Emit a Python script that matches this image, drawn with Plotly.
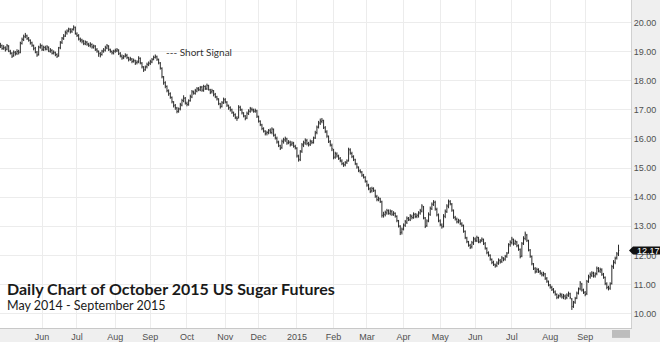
import pandas as pd
import plotly.graph_objects as go

# ---- data, one value per trading day from 2014-04-28 ----
start_date = "2014-04-28"

closes = [
    19.22, 19.10, 19.14, 19.05, 19.20, 19.02, 18.95, 18.84, 18.98, 18.92,
    19.00, 18.96, 19.30, 19.42, 19.50, 19.56, 19.44, 19.40, 19.30, 19.22,
    19.10, 18.98, 18.88, 19.16, 19.20, 19.08, 19.14, 19.10, 19.16, 19.02,
    19.06, 18.94, 18.98, 18.88, 18.84, 19.12, 19.30, 19.46, 19.52, 19.66,
    19.70, 19.78, 19.68, 19.76, 19.84, 19.62, 19.55, 19.44, 19.38, 19.36,
    19.28, 19.34, 19.26, 19.22, 19.26, 19.16, 19.20, 19.08, 19.02, 18.92,
    18.88, 19.02, 19.06, 19.14, 19.20, 19.08, 19.02, 18.96, 19.00, 19.04,
    19.06, 18.92, 18.86, 18.78, 18.82, 18.88, 18.80, 18.72, 18.76, 18.66,
    18.70, 18.60, 18.64, 18.78, 18.62, 18.48, 18.36, 18.46, 18.56, 18.60,
    18.66, 18.72, 18.80, 18.84, 18.74, 18.62, 18.44, 18.14, 17.92, 17.82,
    17.66, 17.54, 17.44, 17.28, 17.14, 17.08, 16.94, 17.02, 17.18, 17.32,
    17.40, 17.24, 17.18, 17.30, 17.46, 17.62, 17.58, 17.66, 17.72, 17.70,
    17.76, 17.68, 17.80, 17.74, 17.84, 17.70, 17.60, 17.66, 17.52, 17.46,
    17.38, 17.22, 17.10, 17.24, 17.36, 17.28, 17.16, 17.06, 17.00, 16.92,
    16.82, 16.74, 16.70, 17.10, 17.02, 16.90, 16.80, 16.70, 16.88, 16.96,
    17.04, 17.00, 16.96, 16.98, 16.78, 16.62, 16.50, 16.36, 16.28, 16.18,
    16.22, 16.28, 16.24, 16.34, 16.14, 16.04, 15.90, 15.78, 15.68, 15.92,
    15.98, 16.02, 15.86, 15.90, 15.80, 15.86, 15.76, 15.70, 15.42, 15.28,
    15.56, 15.80, 15.88, 15.96, 15.84, 15.80, 15.92, 15.88, 16.02, 16.20,
    16.40, 16.56, 16.62, 16.64, 16.40, 16.26, 16.10, 15.92, 15.80, 15.66,
    15.36, 15.50, 15.42, 15.34, 15.26, 15.16, 15.10, 15.18, 15.24, 15.64,
    15.52, 15.40, 15.30, 15.16, 15.04, 14.92, 14.88, 14.76, 14.70, 14.56,
    14.42, 14.30, 14.20, 14.30, 14.24, 14.04, 13.92, 13.96, 13.86, 13.38,
    13.42, 13.48, 13.54, 13.46, 13.52, 13.42, 13.46, 13.36, 13.20, 13.02,
    12.78, 12.90, 13.04, 13.16, 13.28, 13.24, 13.36, 13.30, 13.42, 13.34,
    13.38, 13.46, 13.54, 13.70, 13.30, 13.00, 13.18, 13.42, 13.62, 13.76,
    13.84, 13.60, 13.40, 13.20, 13.06, 12.98, 13.36, 13.52, 13.70, 13.86,
    13.78, 13.56, 13.32, 13.26, 13.16, 13.20, 13.10, 13.04, 12.84, 12.62,
    12.48, 12.36, 12.28, 12.44, 12.58, 12.52, 12.62, 12.48, 12.50, 12.56,
    12.42, 12.26, 12.10, 12.02, 11.88, 11.76, 11.70, 11.64, 11.74, 11.84,
    11.78, 11.92, 11.86, 11.96, 12.06, 12.36, 12.46, 12.56, 12.40, 12.48,
    12.34, 12.22, 11.96, 12.40, 12.60, 12.74, 12.52, 12.20, 11.98, 11.72,
    11.56, 11.44, 11.52, 11.46, 11.40, 11.34, 11.38, 11.22, 11.12, 11.00,
    10.92, 10.84, 10.76, 10.68, 10.56, 10.60, 10.66, 10.58, 10.62, 10.54,
    10.64, 10.70, 10.56, 10.24, 10.38, 10.52, 10.70, 10.84, 11.06, 10.82,
    10.74, 10.66, 11.10, 11.28, 11.34, 11.40, 11.30, 11.36, 11.56, 11.48,
    11.52, 11.36, 11.26, 11.04, 10.90, 10.86, 11.02, 11.62, 11.78, 11.90,
    12.06, 12.17,
]

opens = [
    19.18, 19.20, 19.12, 19.12, 19.08, 19.18, 19.00, 18.94, 18.86, 18.96,
    18.94, 19.02, 18.98, 19.28, 19.40, 19.52, 19.54, 19.46, 19.38, 19.30,
    19.20, 19.12, 18.98, 18.90, 19.14, 19.20, 19.06, 19.14, 19.08, 19.14,
    19.00, 19.04, 18.96, 18.96, 18.90, 18.86, 19.14, 19.32, 19.44, 19.54,
    19.64, 19.72, 19.76, 19.70, 19.78, 19.82, 19.60, 19.54, 19.42, 19.40,
    19.34, 19.26, 19.32, 19.24, 19.20, 19.24, 19.14, 19.18, 19.06, 19.00,
    18.94, 18.90, 19.00, 19.04, 19.12, 19.18, 19.06, 19.00, 18.94, 19.02,
    19.02, 19.04, 18.94, 18.84, 18.80, 18.84, 18.86, 18.78, 18.74, 18.74,
    18.68, 18.68, 18.62, 18.66, 18.76, 18.60, 18.46, 18.38, 18.48, 18.54,
    18.60, 18.64, 18.74, 18.80, 18.82, 18.72, 18.60, 18.42, 18.12, 17.94,
    17.80, 17.64, 17.56, 17.42, 17.26, 17.16, 17.06, 16.96, 17.04, 17.16,
    17.30, 17.40, 17.22, 17.20, 17.32, 17.44, 17.60, 17.56, 17.64, 17.74,
    17.68, 17.78, 17.66, 17.80, 17.72, 17.82, 17.68, 17.62, 17.64, 17.54,
    17.44, 17.36, 17.20, 17.12, 17.26, 17.34, 17.26, 17.14, 17.08, 17.00,
    16.90, 16.84, 16.72, 16.74, 17.08, 17.00, 16.88, 16.78, 16.72, 16.86,
    16.94, 17.02, 17.00, 16.94, 16.96, 16.76, 16.60, 16.48, 16.34, 16.26,
    16.20, 16.22, 16.30, 16.22, 16.32, 16.12, 16.02, 15.88, 15.76, 15.70,
    15.90, 15.96, 16.00, 15.88, 15.88, 15.82, 15.84, 15.74, 15.68, 15.40,
    15.30, 15.58, 15.78, 15.86, 15.94, 15.86, 15.82, 15.90, 15.88, 16.04,
    16.22, 16.42, 16.54, 16.60, 16.62, 16.38, 16.24, 16.08, 15.90, 15.78,
    15.62, 15.38, 15.48, 15.40, 15.32, 15.24, 15.14, 15.12, 15.20, 15.26,
    15.62, 15.50, 15.38, 15.28, 15.14, 15.02, 14.90, 14.86, 14.74, 14.68,
    14.54, 14.40, 14.28, 14.22, 14.28, 14.22, 14.02, 13.90, 13.94, 13.84,
    13.36, 13.40, 13.46, 13.52, 13.44, 13.50, 13.40, 13.44, 13.34, 13.18,
    13.00, 12.80, 12.92, 13.04, 13.14, 13.26, 13.22, 13.34, 13.30, 13.40,
    13.34, 13.36, 13.46, 13.52, 13.66, 13.28, 13.02, 13.20, 13.40, 13.60,
    13.74, 13.82, 13.58, 13.38, 13.18, 13.04, 13.00, 13.34, 13.50, 13.68,
    13.84, 13.76, 13.54, 13.30, 13.24, 13.14, 13.18, 13.08, 13.02, 12.82,
    12.60, 12.46, 12.34, 12.30, 12.42, 12.56, 12.50, 12.60, 12.46, 12.52,
    12.54, 12.40, 12.24, 12.08, 12.00, 11.86, 11.78, 11.68, 11.66, 11.72,
    11.82, 11.80, 11.90, 11.88, 11.98, 12.10, 12.38, 12.44, 12.54, 12.42,
    12.46, 12.32, 12.20, 11.98, 12.42, 12.58, 12.70, 12.50, 12.18, 11.96,
    11.70, 11.54, 11.46, 11.50, 11.44, 11.38, 11.32, 11.36, 11.20, 11.10,
    10.98, 10.90, 10.82, 10.74, 10.66, 10.58, 10.62, 10.64, 10.56, 10.60,
    10.56, 10.62, 10.68, 10.50, 10.26, 10.40, 10.54, 10.72, 10.86, 11.02,
    10.80, 10.72, 10.70, 11.12, 11.26, 11.32, 11.38, 11.30, 11.38, 11.54,
    11.46, 11.50, 11.34, 11.24, 11.02, 10.92, 10.88, 11.04, 11.60, 11.76,
    11.92, 12.04,
]

highs = [
    19.30, 19.24, 19.22, 19.18, 19.26, 19.22, 19.06, 18.98, 19.04, 19.02,
    19.08, 19.06, 19.34, 19.48, 19.58, 19.64, 19.58, 19.50, 19.42, 19.34,
    19.24, 19.16, 19.02, 19.20, 19.28, 19.24, 19.20, 19.20, 19.22, 19.18,
    19.12, 19.08, 19.04, 19.00, 18.94, 19.16, 19.36, 19.50, 19.60, 19.72,
    19.76, 19.82, 19.80, 19.80, 19.90, 19.86, 19.66, 19.60, 19.48, 19.44,
    19.40, 19.38, 19.36, 19.30, 19.32, 19.28, 19.24, 19.22, 19.12, 19.04,
    18.98, 19.06, 19.12, 19.20, 19.26, 19.22, 19.10, 19.04, 19.06, 19.10,
    19.12, 19.08, 18.98, 18.90, 18.88, 18.94, 18.92, 18.82, 18.82, 18.78,
    18.76, 18.72, 18.70, 18.84, 18.80, 18.64, 18.50, 18.52, 18.62, 18.66,
    18.72, 18.78, 18.86, 18.90, 18.86, 18.76, 18.64, 18.46, 18.16, 17.98,
    17.84, 17.70, 17.60, 17.46, 17.30, 17.20, 17.10, 17.08, 17.24, 17.38,
    17.50, 17.44, 17.28, 17.36, 17.52, 17.68, 17.66, 17.72, 17.78, 17.78,
    17.82, 17.82, 17.86, 17.84, 17.90, 17.86, 17.72, 17.72, 17.68, 17.58,
    17.48, 17.40, 17.24, 17.30, 17.42, 17.40, 17.30, 17.18, 17.12, 17.04,
    16.94, 16.88, 16.78, 17.16, 17.14, 17.04, 16.92, 16.82, 16.94, 17.02,
    17.10, 17.08, 17.04, 17.04, 17.00, 16.80, 16.64, 16.52, 16.40, 16.30,
    16.28, 16.34, 16.36, 16.40, 16.36, 16.18, 16.08, 15.94, 15.80, 15.98,
    16.04, 16.08, 16.04, 15.96, 15.94, 15.92, 15.90, 15.80, 15.72, 15.46,
    15.62, 15.86, 15.94, 16.02, 16.00, 15.90, 15.98, 15.96, 16.08, 16.28,
    16.46, 16.62, 16.70, 16.72, 16.66, 16.44, 16.30, 16.12, 15.96, 15.84,
    15.66, 15.56, 15.54, 15.46, 15.38, 15.30, 15.20, 15.24, 15.30, 15.70,
    15.68, 15.56, 15.44, 15.32, 15.18, 15.06, 14.96, 14.90, 14.80, 14.72,
    14.58, 14.46, 14.34, 14.36, 14.34, 14.26, 14.08, 14.02, 13.98, 13.88,
    13.50, 13.54, 13.60, 13.58, 13.58, 13.56, 13.52, 13.48, 13.38, 13.22,
    13.04, 12.96, 13.10, 13.22, 13.34, 13.32, 13.42, 13.40, 13.48, 13.46,
    13.44, 13.52, 13.60, 13.76, 13.70, 13.32, 13.24, 13.48, 13.68, 13.82,
    13.90, 13.88, 13.64, 13.44, 13.24, 13.10, 13.42, 13.58, 13.76, 13.92,
    13.90, 13.80, 13.58, 13.36, 13.30, 13.26, 13.24, 13.14, 13.06, 12.86,
    12.64, 12.50, 12.40, 12.50, 12.64, 12.62, 12.68, 12.64, 12.56, 12.62,
    12.58, 12.46, 12.28, 12.14, 12.04, 11.90, 11.82, 11.72, 11.80, 11.90,
    11.88, 11.98, 11.94, 12.02, 12.12, 12.42, 12.52, 12.64, 12.58, 12.54,
    12.50, 12.38, 12.24, 12.46, 12.66, 12.82, 12.74, 12.54, 12.22, 12.00,
    11.74, 11.60, 11.58, 11.56, 11.50, 11.44, 11.44, 11.40, 11.26, 11.14,
    11.02, 10.96, 10.88, 10.80, 10.70, 10.66, 10.72, 10.70, 10.68, 10.66,
    10.70, 10.76, 10.72, 10.54, 10.44, 10.58, 10.76, 10.90, 11.12, 11.06,
    10.86, 10.78, 11.16, 11.34, 11.42, 11.46, 11.44, 11.42, 11.62, 11.60,
    11.58, 11.56, 11.40, 11.28, 11.08, 10.96, 11.08, 11.68, 11.84, 11.96,
    12.12, 12.37,
]

lows = [
    19.12, 19.06, 19.06, 19.00, 19.04, 18.98, 18.90, 18.78, 18.82, 18.86,
    18.88, 18.90, 18.94, 19.24, 19.36, 19.46, 19.40, 19.34, 19.24, 19.16,
    19.04, 18.94, 18.82, 18.86, 19.10, 19.02, 19.02, 19.04, 19.04, 18.98,
    18.96, 18.90, 18.90, 18.84, 18.78, 18.82, 19.08, 19.26, 19.40, 19.50,
    19.58, 19.66, 19.62, 19.64, 19.72, 19.58, 19.50, 19.38, 19.32, 19.28,
    19.22, 19.22, 19.20, 19.16, 19.14, 19.10, 19.10, 19.02, 18.96, 18.82,
    18.80, 18.86, 18.96, 19.00, 19.08, 19.02, 18.96, 18.90, 18.90, 18.96,
    18.98, 18.88, 18.80, 18.72, 18.74, 18.80, 18.74, 18.66, 18.68, 18.60,
    18.62, 18.54, 18.56, 18.60, 18.56, 18.42, 18.30, 18.34, 18.42, 18.50,
    18.54, 18.60, 18.70, 18.76, 18.68, 18.56, 18.38, 18.08, 17.86, 17.74,
    17.60, 17.48, 17.38, 17.22, 17.08, 17.00, 16.88, 16.90, 16.98, 17.12,
    17.26, 17.18, 17.12, 17.14, 17.28, 17.40, 17.52, 17.52, 17.60, 17.64,
    17.64, 17.62, 17.62, 17.68, 17.68, 17.66, 17.54, 17.56, 17.46, 17.40,
    17.32, 17.16, 17.04, 17.08, 17.20, 17.22, 17.10, 17.00, 16.94, 16.86,
    16.76, 16.68, 16.62, 16.70, 16.96, 16.84, 16.74, 16.64, 16.68, 16.82,
    16.90, 16.94, 16.90, 16.90, 16.72, 16.56, 16.44, 16.30, 16.22, 16.12,
    16.12, 16.16, 16.18, 16.16, 16.08, 15.98, 15.84, 15.72, 15.62, 15.66,
    15.84, 15.90, 15.80, 15.82, 15.74, 15.76, 15.70, 15.64, 15.36, 15.22,
    15.24, 15.52, 15.72, 15.80, 15.78, 15.74, 15.76, 15.82, 15.84, 16.00,
    16.16, 16.36, 16.48, 16.54, 16.34, 16.20, 16.04, 15.86, 15.74, 15.58,
    15.30, 15.32, 15.36, 15.28, 15.20, 15.10, 15.04, 15.06, 15.14, 15.22,
    15.46, 15.34, 15.24, 15.10, 14.98, 14.86, 14.82, 14.70, 14.64, 14.50,
    14.36, 14.24, 14.14, 14.16, 14.18, 13.98, 13.86, 13.86, 13.80, 13.30,
    13.30, 13.34, 13.40, 13.40, 13.38, 13.36, 13.36, 13.30, 13.14, 12.96,
    12.70, 12.72, 12.86, 12.98, 13.08, 13.18, 13.18, 13.24, 13.26, 13.28,
    13.28, 13.30, 13.40, 13.48, 13.24, 12.94, 12.98, 13.14, 13.36, 13.56,
    13.70, 13.54, 13.34, 13.14, 13.00, 12.92, 12.96, 13.28, 13.46, 13.62,
    13.72, 13.50, 13.26, 13.20, 13.10, 13.10, 13.04, 12.98, 12.78, 12.56,
    12.42, 12.30, 12.22, 12.24, 12.36, 12.46, 12.46, 12.42, 12.42, 12.46,
    12.36, 12.20, 12.04, 11.96, 11.82, 11.70, 11.64, 11.58, 11.60, 11.68,
    11.72, 11.74, 11.80, 11.82, 11.92, 12.06, 12.30, 12.38, 12.34, 12.36,
    12.28, 12.16, 11.90, 11.94, 12.36, 12.52, 12.46, 12.14, 11.92, 11.66,
    11.50, 11.38, 11.40, 11.40, 11.34, 11.28, 11.28, 11.16, 11.06, 10.94,
    10.86, 10.78, 10.70, 10.62, 10.50, 10.52, 10.56, 10.52, 10.50, 10.48,
    10.50, 10.58, 10.50, 10.13, 10.20, 10.34, 10.50, 10.66, 10.80, 10.76,
    10.68, 10.60, 10.64, 11.06, 11.20, 11.26, 11.24, 11.24, 11.32, 11.42,
    11.40, 11.30, 11.20, 10.98, 10.84, 10.80, 10.82, 11.00, 11.54, 11.70,
    11.86, 11.98,
]

month_ticks = ["2014-06-02", "2014-07-01", "2014-08-01", "2014-09-01", "2014-10-01",
               "2014-11-03", "2014-12-01", "2015-01-01", "2015-02-02", "2015-03-02",
               "2015-04-01", "2015-05-01", "2015-06-01", "2015-07-01", "2015-08-03",
               "2015-09-01"]
month_labels = ["Jun", "Jul", "Aug", "Sep", "Oct", "Nov", "Dec", "2015", "Feb", "Mar",
                "Apr", "May", "Jun", "Jul", "Aug", "Sep"]
price_ticks = [10, 11, 12, 13, 14, 15, 16, 17, 18, 19, 20]
last_price = 12.17

title_text = "Daily Chart of October 2015 US Sugar Futures"
subtitle_text = "May 2014 - September 2015"
signal_text = "--- Short Signal"
signal_date = "2014-09-11"
signal_price = 18.98

dates = pd.bdate_range(start_date, periods=len(closes))

fig = go.Figure()
fig.add_trace(go.Ohlc(
    x=dates, open=opens, high=highs, low=lows, close=closes,
    increasing=dict(line=dict(color="#2b2b2b", width=1)),
    decreasing=dict(line=dict(color="#2b2b2b", width=1)),
    tickwidth=0.45, hoverinfo="skip", showlegend=False,
))

fig.update_layout(
    width=660, height=342,
    margin=dict(l=0, r=29, t=0, b=11),
    paper_bgcolor="#efefef",
    plot_bgcolor="#ffffff",
    showlegend=False,
    xaxis=dict(
        type="date",
        rangebreaks=[dict(bounds=["sat", "mon"])],
        range=["2014-04-25 19:00", "2015-10-08 12:00"],
        tickvals=month_ticks, ticktext=month_labels,
        tickfont=dict(family="Liberation Sans", size=9, color="#505050"),
        showgrid=True, gridcolor="#ececec", gridwidth=1,
        ticks="", showline=True, linecolor="#c8c8c8", linewidth=1,
        rangeslider=dict(visible=False), zeroline=False, fixedrange=True,
    ),
    yaxis=dict(
        side="right",
        range=[9.51, 20.77],
        tickvals=price_ticks, tickformat=".2f",
        tickfont=dict(family="Liberation Sans", size=9, color="#505050"),
        showgrid=True, gridcolor="#ececec", gridwidth=1,
        ticks="", showline=True, linecolor="#d0d0d0", linewidth=1,
        zeroline=False, fixedrange=True,
    ),
)

# price flag on the right axis
fig.add_shape(
    type="path", xref="paper", yref="y", xsizemode="pixel", ysizemode="pixel",
    xanchor=1, yanchor=last_price,
    path="M -2,0 L 2,-4 L 40,-4 L 40,4 L 2,4 Z",
    fillcolor="#111111", line=dict(width=0), layer="above",
)
fig.add_annotation(
    x=1, xref="paper", y=last_price, yref="y", xanchor="left", yanchor="middle",
    xshift=4, text=f"{last_price:.2f}", showarrow=False,
    font=dict(family="Liberation Sans", size=9, color="#ffffff"),
)

# small date box at bottom right
fig.add_shape(type="rect", xref="paper", yref="paper",
              x0=612 / 631, x1=630 / 631, y0=-10 / 331, y1=-2 / 331,
              fillcolor="#bdbdbd", line=dict(width=0), layer="above")

fig.add_annotation(
    x=signal_date, y=signal_price, xref="x", yref="y", xanchor="left", yanchor="middle",
    text=signal_text, showarrow=False,
    font=dict(family="Lato", size=10, color="#333333"),
)
fig.add_annotation(
    x=5 / 631, y=(331 - 291) / 331, xref="paper", yref="paper",
    xanchor="left", yanchor="middle", text=f"<b>{title_text}</b>", showarrow=False,
    font=dict(family="Lato", size=16, color="#1a1a1a"),
)
fig.add_annotation(
    x=5 / 631, y=(331 - 308) / 331, xref="paper", yref="paper",
    xanchor="left", yanchor="middle", text=subtitle_text, showarrow=False,
    font=dict(family="Lato", size=12.5, color="#1a1a1a"),
)

fig.write_html("out.html")
